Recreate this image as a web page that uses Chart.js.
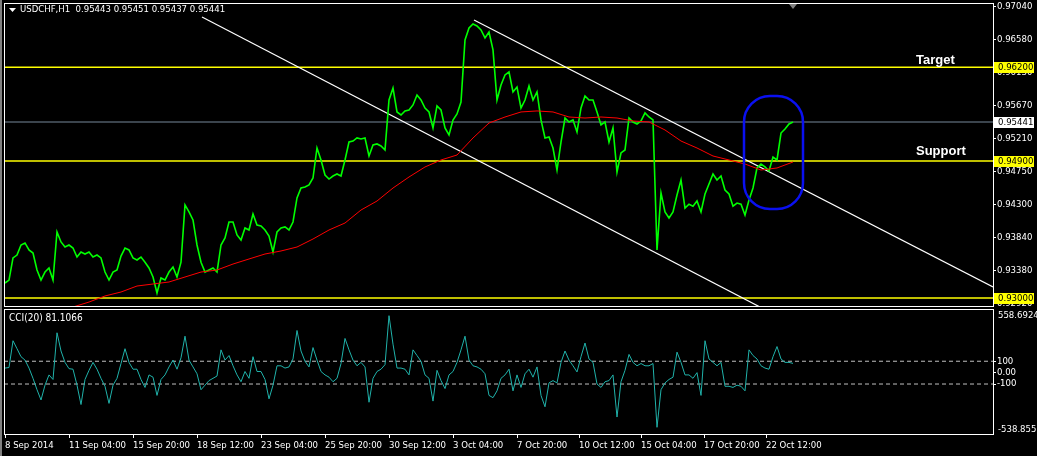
<!DOCTYPE html>
<html>
<head>
<meta charset="utf-8">
<script src="https://cdn.jsdelivr.net/npm/chart.js@4.4.1/dist/chart.umd.min.js"></script>
<style>
  html, body { margin: 0; padding: 0; background: #000; }
  #wrap { position: relative; width: 1037px; height: 456px; background: #000; overflow: hidden; }
  #wrap:before { content: ''; position: absolute; left: 0; top: 0; width: 2px; height: 456px; background: #808080; }
  #priceChart { position: absolute; left: 0; top: 0; }
  #cciChart { position: absolute; left: 0; top: 308px; }
</style>
</head>
<body>
<div id="wrap">
  <canvas id="priceChart" width="1037" height="308"></canvas>
  <canvas id="cciChart" width="1037" height="148"></canvas>
</div>
<script>
// USDCHF H1, one value every 4 bars (hours) starting at bar 0 = 8 Sep 2014
const symbol = 'USDCHF,H1';
const lastQuote = ['0.95443', '0.95451', '0.95437', '0.95441'];
const barStep = 4;
const closes = [
  0.93208, 0.93249, 0.93555, 0.93596, 0.93735, 0.93763, 0.93666, 0.93624, 0.93388, 0.93249,
  0.93360, 0.93416, 0.93249, 0.93915, 0.93777, 0.93707, 0.93735, 0.93693, 0.93568, 0.93638,
  0.93610, 0.93638, 0.93568, 0.93596, 0.93555, 0.93360, 0.93249, 0.93360, 0.93388, 0.93582,
  0.93693, 0.93666, 0.93555, 0.93527, 0.93568, 0.93496, 0.93416, 0.93291, 0.93069, 0.93277,
  0.93249, 0.93360, 0.93430, 0.93291, 0.93496, 0.94290, 0.94193, 0.94082, 0.93735, 0.93496,
  0.93360, 0.93388, 0.93416, 0.93360, 0.93735, 0.93832, 0.94054, 0.94054, 0.93874, 0.93804,
  0.93971, 0.93943, 0.94165, 0.94012, 0.93998, 0.93943, 0.93860, 0.93638, 0.93915, 0.93971,
  0.93985, 0.93943, 0.94054, 0.94387, 0.94525, 0.94539, 0.94567, 0.94664, 0.95080, 0.94914,
  0.94706, 0.94650, 0.94692, 0.94720, 0.94692, 0.94914, 0.95163, 0.95177, 0.95219, 0.95205,
  0.95219, 0.94969, 0.95122, 0.95136, 0.95108, 0.95053, 0.95746, 0.95912, 0.95580, 0.95538,
  0.95593, 0.95607, 0.95677, 0.95815, 0.95746, 0.95635, 0.95580, 0.95358, 0.95663, 0.95607,
  0.95358, 0.95261, 0.95469, 0.95552, 0.95718, 0.96578, 0.96745, 0.96800, 0.96772, 0.96717,
  0.96606, 0.96689, 0.96440, 0.95746, 0.95954, 0.96093, 0.96134, 0.95857, 0.95926, 0.95635,
  0.95746, 0.95940, 0.95746, 0.95857, 0.95469, 0.95219, 0.95233, 0.95080, 0.94775, 0.95163,
  0.95496, 0.95441, 0.95469, 0.95302, 0.95635, 0.95802, 0.95746, 0.95746, 0.95580, 0.95399,
  0.95441, 0.95163, 0.95358, 0.94747, 0.95011, 0.95053, 0.95496, 0.95441, 0.95413, 0.95455,
  0.95566, 0.95510, 0.95469, 0.93666, 0.94456, 0.94193, 0.94109, 0.94193, 0.94428, 0.94636,
  0.94248, 0.94300, 0.94273, 0.94345, 0.94193, 0.94442, 0.94581, 0.94720, 0.94636, 0.94692,
  0.94498, 0.94442, 0.94273, 0.94317, 0.94300, 0.94151, 0.94359, 0.94525, 0.94803, 0.94858,
  0.94817, 0.94761, 0.94955, 0.94914, 0.95288, 0.95344, 0.95413, 0.95441
];

// red moving average, one value every 16 bars from bar 68
const maStart = 68;
const maStep = 16;
const maValues = [
  0.92875, 0.92944, 0.93028, 0.93083, 0.93166, 0.93194, 0.93222, 0.93291, 0.93360, 0.93388,
  0.93471, 0.93541, 0.93610, 0.93652, 0.93707, 0.93818, 0.93943, 0.94040, 0.94220, 0.94345,
  0.94525, 0.94678, 0.94817, 0.94914, 0.94983, 0.95219, 0.95427, 0.95510, 0.95580, 0.95594,
  0.95580, 0.95510, 0.95496, 0.95510, 0.95496, 0.95455, 0.95441, 0.95330, 0.95177, 0.95080,
  0.94969, 0.94914, 0.94858, 0.94775, 0.94803, 0.94886
];

// CCI(20), same bars as closes
const cciName = 'CCI(20)';
const cciLast = 81.1066;
const cciValues = [
  40, 45, 280, 210, 140, 110, 40, -50, -150, -240,
  -110, -20, -60, 350, 190, 90, 35, 30, -110, -280,
  -60, 20, 90, 30, -50, -120, -270, -110, -50, 80,
  210, 90, 30, 30, -60, -130, -20, -40, -200, -60,
  -20, 50, 110, 30, 130, 320, 110, 50, -10, -150,
  -110, -70, -50, -30, 200, 110, 150, 60, -20, -80,
  10, -50, 140, 10, 10, -60, -230, -110, 60, 60,
  40, 50, 120, 370, 190, 100, 50, 220, 110, 10,
  -20, -40, -80, -50, 80, 300, 200, 110, 60, 90,
  50, -260, -50, 10, 30, 70, 500, 250, 40, 40,
  30, -20, 200, 150, 100, -20, -50, -250, 20, -70,
  -140, -20, 10, 90, 200, 320, 110, 60, 50, 30,
  -10, -200, -220, -160, -50, -20, 30, -160, -20, -130,
  -10, 30, -40, 50, -200, -300, -90, -70, -90, 90,
  190, 110, 60, 6, 140, 260, 120, 90, -100, -130,
  -80, -70, -20, -390, -80, 20, 160, 90, 60, 80,
  60, 60, 80, -480, -150, -90, -60, -40, 180, 90,
  -20, -20, -50, 0, -200, 280, 120, 90, 60, 90,
  -120, -120, -130, -110, -120, -160, 200, 150, 120, 60,
  40, 30, 140, 229, 120, 90, 90, 81
];
const cciRange = [-538.8553, 558.6924];
const cciLevels = [100, -100];
const cciTicks = [100, 0, -100];

const timeTicks = [0, 64, 128, 192, 256, 320, 384, 448, 512, 574, 636, 699, 761];
const timeLabels = ['8 Sep 2014', '11 Sep 04:00', '15 Sep 20:00', '18 Sep 12:00', '23 Sep 04:00',
  '25 Sep 20:00', '30 Sep 12:00', '3 Oct 04:00', '7 Oct 20:00', '10 Oct 12:00', '15 Oct 04:00',
  '17 Oct 20:00', '22 Oct 12:00'];

const priceTicks = [0.97040, 0.96580, 0.96130, 0.95670, 0.95210, 0.94750, 0.94300, 0.93840, 0.93380, 0.92920];
const priceRange = [0.92889, 0.97091];
const levelPrices = [0.96200, 0.94900, 0.93000];
const bidPrice = 0.95441;

const upperChannel = [[469, 0.96856], [988, 0.93152]];
const lowerChannel = [[197, 0.96897], [755, 0.92875]];
const noteTexts = ['Target', 'Support'];
const notePrices = [0.96301, 0.95039];
const noteBar = 911;
const boxBars = [739, 798];
const boxPrices = [0.95802, 0.94234];

const firstBar = -1, lastBar = 988;
const FONT = '"DejaVu Sans Condensed", "Liberation Sans", Arial, sans-serif';

const priceData = closes.map((v, i) => ({ x: i * barStep, y: v }));
const maData = maValues.map((v, i) => ({ x: maStart + i * maStep, y: v }));
const cciData = cciValues.map((v, i) => ({ x: i * barStep, y: v }));
const hline = p => [{ x: firstBar, y: p }, { x: lastBar, y: p }];
const seg = s => s.map(pt => ({ x: pt[0], y: pt[1] }));

function lineSet(data, color, order, extra) {
  return Object.assign({ data, borderColor: color, borderWidth: 1, pointRadius: 0, tension: 0, order }, extra || {});
}

// fixed axis sizes, no label overhang padding
function fixY(s) { s.width = 44; s.paddingTop = 0; s.paddingBottom = 0; }
function fixX(s) { s.height = 22; s.paddingLeft = 0; s.paddingRight = 0; }

const frame = {
  id: 'frame',
  afterDraw(chart) {
    const { ctx, chartArea: a } = chart;
    ctx.save();
    ctx.strokeStyle = '#fff';
    ctx.lineWidth = 1;
    ctx.strokeRect(a.left + 0.5, a.top + 0.5, a.right - a.left, a.bottom - a.top);
    ctx.restore();
  }
};

const priceDecor = {
  id: 'priceDecor',
  afterDatasetsDraw(chart) {
    const { ctx, chartArea: a } = chart;
    const xs = chart.scales.x, ys = chart.scales.y;
    ctx.save();
    ctx.beginPath();
    ctx.rect(a.left, a.top, a.right - a.left, a.bottom - a.top);
    ctx.clip();
    // highlight box
    const x1 = xs.getPixelForValue(boxBars[0]), x2 = xs.getPixelForValue(boxBars[1]);
    const y1 = ys.getPixelForValue(boxPrices[0]), y2 = ys.getPixelForValue(boxPrices[1]);
    ctx.strokeStyle = '#0a10f0';
    ctx.lineWidth = 2.5;
    ctx.beginPath();
    ctx.roundRect(x1, y1, x2 - x1, y2 - y1, 26);
    ctx.stroke();
    // text notes
    ctx.fillStyle = '#fff';
    ctx.font = 'bold 13px "Liberation Sans", Arial, sans-serif';
    ctx.textBaseline = 'middle';
    noteTexts.forEach((t, i) => ctx.fillText(t, xs.getPixelForValue(noteBar), ys.getPixelForValue(notePrices[i])));
    ctx.restore();
  },
  afterDraw(chart) {
    const { ctx } = chart;
    const xs = chart.scales.x, ys = chart.scales.y;
    ctx.save();
    // header
    ctx.fillStyle = '#fff';
    ctx.beginPath();
    ctx.moveTo(9, 8); ctx.lineTo(16, 8); ctx.lineTo(12.5, 12); ctx.closePath();
    ctx.fill();
    ctx.font = '9.5px ' + FONT;
    ctx.textBaseline = 'middle';
    ctx.fillText(symbol + '  ' + lastQuote.join(' '), 20, 10);
    // shift marker
    const sx = xs.getPixelForValue(closes.length * barStep - barStep);
    ctx.fillStyle = '#808080';
    ctx.beginPath();
    ctx.moveTo(sx - 4, 4); ctx.lineTo(sx + 4, 4); ctx.lineTo(sx, 9); ctx.closePath();
    ctx.fill();
    // tagged price labels
    ctx.font = '9.5px ' + FONT;
    const tags = levelPrices.map(p => [p, '#ffff00']).concat([[bidPrice, '#fff']]);
    tags.forEach(([p, bg]) => {
      const y = Math.round(ys.getPixelForValue(p));
      ctx.fillStyle = bg;
      ctx.fillRect(994, y - 5, 40, 11);
      ctx.fillStyle = '#000';
      ctx.fillText(p.toFixed(5), 998, y + 0.5);
    });
    ctx.restore();
  }
};

new Chart(document.getElementById('priceChart'), {
  type: 'line',
  data: {
    datasets: [
      lineSet(maData, '#ff0000', 0),
      lineSet(priceData, '#00ff00', 1, { borderWidth: 1.6 }),
      lineSet(seg(upperChannel), '#ffffff', 2, { borderWidth: 1.2 }),
      lineSet(seg(lowerChannel), '#ffffff', 2, { borderWidth: 1.2 }),
      lineSet(hline(levelPrices[0]), '#ffff00', 3, { borderWidth: 1.4 }),
      lineSet(hline(levelPrices[1]), '#ffff00', 3, { borderWidth: 1.4 }),
      lineSet(hline(levelPrices[2]), '#ffff00', 3, { borderWidth: 1.4 }),
      lineSet(hline(bidPrice), '#778899', 3, { borderWidth: 1.2 })
    ]
  },
  options: {
    responsive: false,
    animation: false,
    events: [],
    layout: { padding: { left: 4, top: 3, bottom: 2, right: 0 } },
    plugins: { legend: { display: false }, tooltip: { enabled: false } },
    scales: {
      x: { type: 'linear', display: false, min: firstBar, max: lastBar },
      y: {
        type: 'linear', position: 'right', min: priceRange[0], max: priceRange[1],
        afterFit: fixY,
        afterBuildTicks(s) { s.ticks = priceTicks.map(v => ({ value: v })); },
        grid: { display: true, drawOnChartArea: false, drawTicks: true, tickLength: 3, tickColor: '#fff' },
        border: { display: false },
        ticks: {
          autoSkip: false, padding: 1, color: '#fff',
          font: { family: FONT, size: 9.5 },
          callback: v => v.toFixed(5)
        }
      }
    }
  },
  plugins: [frame, priceDecor]
});

const cciDecor = {
  id: 'cciDecor',
  afterDraw(chart) {
    const { ctx, chartArea: a } = chart;
    ctx.save();
    ctx.fillStyle = '#fff';
    ctx.font = '10px ' + FONT;
    ctx.textBaseline = 'middle';
    ctx.fillText(cciName + ' ' + cciLast.toFixed(4), 9, a.top + 9);
    ctx.font = '9.5px ' + FONT;
    ctx.fillText(cciRange[1].toFixed(4), 998, a.top + 7);
    ctx.fillText(cciRange[0].toFixed(4), 998, a.bottom - 4);
    ctx.restore();
  }
};

new Chart(document.getElementById('cciChart'), {
  type: 'line',
  data: {
    datasets: [
      lineSet(cciData, '#20b2aa', 0),
      lineSet(hline(cciLevels[0]), '#c0c0c0', 1, { borderDash: [4, 3] }),
      lineSet(hline(cciLevels[1]), '#c0c0c0', 1, { borderDash: [4, 3] })
    ]
  },
  options: {
    responsive: false,
    animation: false,
    events: [],
    layout: { padding: { left: 4, top: 1, bottom: 0, right: 0 } },
    plugins: { legend: { display: false }, tooltip: { enabled: false } },
    scales: {
      x: {
        type: 'linear', min: firstBar, max: lastBar,
        afterFit: fixX,
        afterBuildTicks(s) { s.ticks = timeTicks.map(v => ({ value: v })); },
        grid: { display: true, drawOnChartArea: false, drawTicks: true, tickLength: 4, tickColor: '#fff' },
        border: { display: false },
        ticks: {
          autoSkip: false, maxRotation: 0, minRotation: 0, align: 'start', padding: 2, color: '#fff',
          font: { family: FONT, size: 9.5 },
          callback: (v, i) => timeLabels[i]
        }
      },
      y: {
        type: 'linear', position: 'right', min: cciRange[0], max: cciRange[1],
        afterFit: fixY,
        afterBuildTicks(s) { s.ticks = cciTicks.map(v => ({ value: v })); },
        grid: { display: true, drawOnChartArea: false, drawTicks: true, tickLength: 3, tickColor: '#fff' },
        border: { display: false },
        ticks: {
          autoSkip: false, padding: 1, color: '#fff',
          font: { family: FONT, size: 9.5 },
          callback: v => (v === 0 ? '0.00' : String(v))
        }
      }
    }
  },
  plugins: [frame, cciDecor]
});
</script>
</body>
</html>
